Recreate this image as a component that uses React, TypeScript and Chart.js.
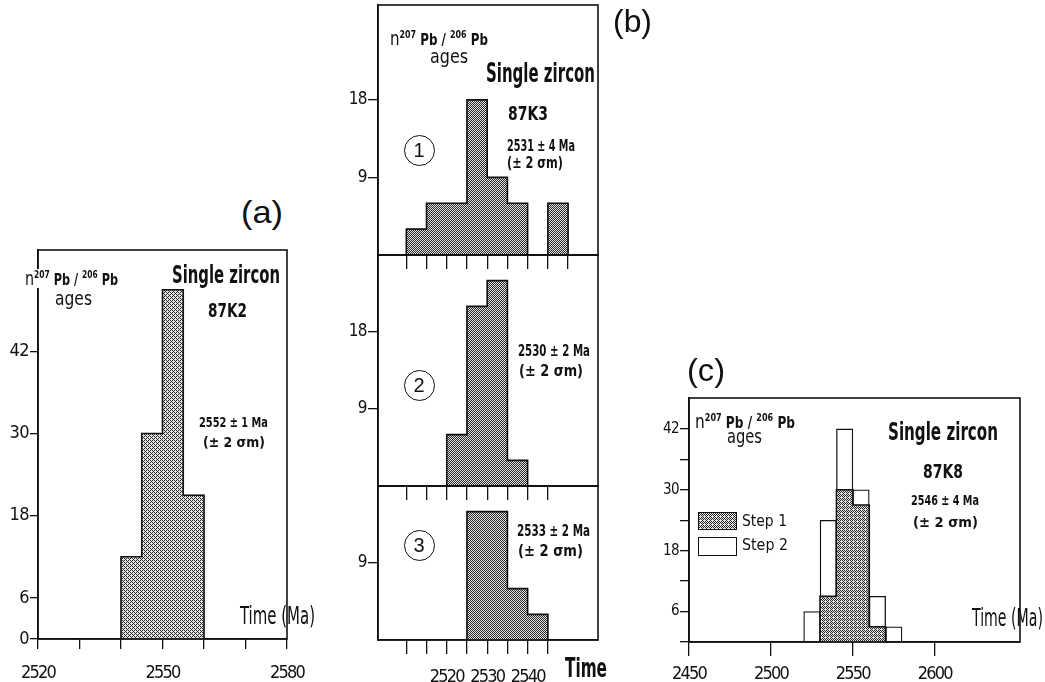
import React, { useEffect, useLayoutEffect, useRef } from 'react';
import { Chart, registerables } from 'chart.js';

Chart.register(...registerables);

const INK = '#111';
const NARROW = "'Liberation Sans Narrow', 'Arial Narrow', 'DejaVu Sans Condensed', 'Liberation Sans', sans-serif";
const SANS = "'Liberation Sans', Arial, sans-serif";

// ---------- Panel (a): single zircon 87K2 ----------
const aBinWidth = 5;
const aBinStart = [2540, 2545, 2550, 2555];
const aCounts = [12, 30, 51, 21];
const aXTicks = [2520, 2530, 2540, 2550, 2560, 2570, 2580];
const aXLabels = [2520, 2550, 2580];
const aYTicks = [0, 6, 18, 30, 42];

// ---------- Panel (b): single zircon 87K3, runs 1-3 ----------
const bBinWidth = 5;
const b1BinStart = [2510, 2515, 2520, 2525, 2530, 2535, 2540, 2545];
const b1Counts = [3, 6, 6, 18, 9, 6, 0, 6];
const b2BinStart = [2520, 2525, 2530, 2535];
const b2Counts = [6, 21, 24, 3];
const b3BinStart = [2525, 2530, 2535, 2540];
const b3Counts = [15, 15, 6, 3];
const b1XTicks = [2510, 2515, 2520, 2525, 2530, 2535, 2540, 2545, 2550];
const b23XTicks = [2510, 2515, 2520, 2525, 2530, 2535, 2540, 2545];
const bXLabels = [2520, 2530, 2540];
const b12YTicks = [9, 18];
const b3YTicks = [9];

// ---------- Panel (c): single zircon 87K8, steps 1-2 ----------
const cBinWidth = 10;
const cBinStart = [2520, 2530, 2540, 2550, 2560, 2570];
const cStep1 = [0, 9, 30, 27, 3, 0];
const cStep2 = [6, 24, 42, 30, 9, 3];
const cXTicks = [2450, 2500, 2550, 2600];
const cXLabels = [2450, 2500, 2550, 2600];
const cYTicks = [0, 6, 12, 18, 24, 30, 36, 42];
const cYLabels = [6, 18, 30, 42];

// ---------- helpers ----------
const barData = (starts: number[], counts: number[], w: number) =>
  starts.map((s, i) => ({ x: s + w / 2, y: counts[i] }));

const outline = (starts: number[], counts: number[], w: number) => {
  const pts = [{ x: starts[0], y: 0 }];
  starts.forEach((s, i) => pts.push({ x: s, y: counts[i] }));
  pts.push({ x: starts[starts.length - 1] + w, y: 0 });
  return pts;
};

const BAYER = [
  [0, 8, 2, 10],
  [12, 4, 14, 6],
  [3, 11, 1, 9],
  [15, 7, 13, 5],
];

function makeTile(level: number, light: string, dark: string) {
  const c = document.createElement('canvas');
  c.width = 4;
  c.height = 4;
  const g = c.getContext('2d')!;
  g.fillStyle = light;
  g.fillRect(0, 0, 4, 4);
  g.fillStyle = dark;
  for (let y = 0; y < 4; y++) for (let x = 0; x < 4; x++) if (BAYER[y][x] < level) g.fillRect(x, y, 1, 1);
  return c;
}

const histLine = (starts: number[], counts: number[], w: number) => ({
  type: 'line',
  data: outline(starts, counts, w),
  borderColor: INK,
  borderWidth: 1.6,
  pointRadius: 0,
  stepped: 'before',
  fill: false,
  tension: 0,
});

const histBars = (starts: number[], counts: number[], w: number, fill: any, border = 0) => ({
  type: 'bar',
  data: barData(starts, counts, w),
  backgroundColor: fill,
  borderColor: INK,
  borderWidth: border,
  barPercentage: 1,
  categoryPercentage: 1,
  grouped: false,
});

const framePlugin = {
  id: 'frame',
  afterDraw(chart: any) {
    const { ctx, chartArea } = chart;
    const { left, top, right, bottom } = chartArea;
    ctx.save();
    ctx.strokeStyle = INK;
    ctx.lineWidth = 1.6;
    ctx.strokeRect(left, top, right - left, bottom - top);
    ctx.restore();
  },
};

type Spec = {
  box: [number, number, number, number];
  padTop: number;
  padRight: number;
  yW: number;
  xH: number;
  xMin: number;
  xMax: number;
  xTicks: number[];
  xLabels: number[];
  xTickLen: number;
  xPad: number;
  xFont: number;
  yMax: number;
  yTicks: number[];
  yLabels: number[];
  yTickLen: number;
  yFont: number;
  tone: number;
  datasets: (pattern: any) => any[];
};

// condensed look for the tick labels (the page has no condensed face)
function narrowLabels(s: any, spacing: string) {
  if (s.__narrow) return;
  const orig = s.drawLabels;
  s.drawLabels = function (area: any) {
    const ctx = this.ctx;
    const prev = ctx.letterSpacing;
    ctx.letterSpacing = spacing;
    orig.call(this, area);
    ctx.letterSpacing = prev ?? '0px';
  };
  s.__narrow = true;
}

function makeConfig(spec: Spec, pattern: any): any {
  return {
    type: 'bar',
    data: { datasets: spec.datasets(pattern) },
    options: {
      responsive: false,
      animation: false,
      events: [],
      layout: { padding: { left: 0, top: spec.padTop, right: spec.padRight, bottom: 0 } },
      plugins: { legend: { display: false }, tooltip: { enabled: false } },
      scales: {
        x: {
          type: 'linear',
          min: spec.xMin,
          max: spec.xMax,
          offset: false,
          grid: {
            drawOnChartArea: false,
            drawTicks: true,
            tickLength: spec.xTickLen,
            color: INK,
            lineWidth: 1.3,
            offset: false,
          },
          border: { color: INK, width: 1.6 },
          ticks: {
            autoSkip: false,
            maxRotation: 0,
            padding: spec.xPad,
            color: INK,
            font: { family: NARROW, size: spec.xFont },
            callback: (v: number) => (spec.xLabels.includes(v) ? String(v) : ''),
          },
          afterBuildTicks: (s: any) => {
            s.ticks = spec.xTicks.map((v) => ({ value: v }));
          },
          afterFit: (s: any) => {
            s.height = spec.xH;
            narrowLabels(s, '-1.8px');
          },
        },
        y: {
          type: 'linear',
          min: 0,
          max: spec.yMax,
          grid: {
            drawOnChartArea: false,
            drawTicks: true,
            tickLength: spec.yTickLen,
            color: INK,
            lineWidth: 1.3,
          },
          border: { color: INK, width: 1.6 },
          ticks: {
            autoSkip: false,
            padding: 1,
            color: INK,
            font: { family: NARROW, size: spec.yFont },
            callback: (v: number) => (spec.yLabels.includes(v) ? String(v) : ''),
          },
          afterBuildTicks: (s: any) => {
            s.ticks = spec.yTicks.map((v) => ({ value: v }));
          },
          afterFit: (s: any) => {
            s.width = spec.yW;
            narrowLabels(s, '-0.6px');
          },
        },
      },
    },
    plugins: [framePlugin],
  };
}

function HistChart({ spec }: { spec: Spec }) {
  const ref = useRef<HTMLCanvasElement>(null);
  useEffect(() => {
    const canvas = ref.current!;
    const tile = makeTile(spec.tone, '#e6e6e6', '#262626');
    const pattern = canvas.getContext('2d')!.createPattern(tile, 'repeat');
    const chart = new Chart(canvas, makeConfig(spec, pattern));
    return () => chart.destroy();
  }, []);
  const [l, t, w, h] = spec.box;
  return (
    <canvas
      ref={ref}
      width={w}
      height={h}
      style={{ position: 'absolute', left: l, top: t, width: w, height: h }}
    />
  );
}

// ---------- chart specs (layout) ----------
const specA: Spec = {
  box: [0, 230, 330, 452], padTop: 20, padRight: 43, yW: 38, xH: 43,
  xMin: 2520, xMax: 2580, xTicks: aXTicks, xLabels: aXLabels, xTickLen: 10, xPad: 14, xFont: 18,
  yMax: 56.8, yTicks: aYTicks, yLabels: aYTicks, yTickLen: 8, yFont: 18, tone: 6,
  datasets: (p) => [histLine(aBinStart, aCounts, aBinWidth), histBars(aBinStart, aCounts, aBinWidth, p)],
};
const specB1: Spec = {
  box: [330, -15, 290, 290], padTop: 20, padRight: 22, yW: 48, xH: 20,
  xMin: 2503, xMax: 2557.4, xTicks: b1XTicks, xLabels: [], xTickLen: 14, xPad: 6, xFont: 18,
  yMax: 29, yTicks: b12YTicks, yLabels: b12YTicks, yTickLen: 10, yFont: 17, tone: 8,
  datasets: (p) => [histLine(b1BinStart, b1Counts, bBinWidth), histBars(b1BinStart, b1Counts, bBinWidth, p)],
};
const specB2: Spec = {
  box: [330, 235, 290, 271], padTop: 20, padRight: 22, yW: 48, xH: 20,
  xMin: 2503, xMax: 2557.4, xTicks: b23XTicks, xLabels: [], xTickLen: 14, xPad: 6, xFont: 18,
  yMax: 27, yTicks: b12YTicks, yLabels: b12YTicks, yTickLen: 10, yFont: 17, tone: 8,
  datasets: (p) => [histLine(b2BinStart, b2Counts, bBinWidth), histBars(b2BinStart, b2Counts, bBinWidth, p)],
};
const specB3: Spec = {
  box: [330, 466, 290, 216], padTop: 20, padRight: 22, yW: 48, xH: 42,
  xMin: 2503, xMax: 2557.4, xTicks: b23XTicks, xLabels: bXLabels, xTickLen: 14, xPad: 13, xFont: 18,
  yMax: 18, yTicks: b3YTicks, yLabels: b3YTicks, yTickLen: 10, yFont: 17, tone: 8,
  datasets: (p) => [histLine(b3BinStart, b3Counts, bBinWidth), histBars(b3BinStart, b3Counts, bBinWidth, p)],
};
const specC: Spec = {
  box: [640, 378, 405, 304], padTop: 20, padRight: 25, yW: 49, xH: 40,
  xMin: 2450, xMax: 2652, xTicks: cXTicks, xLabels: cXLabels, xTickLen: 14, xPad: 8, xFont: 18,
  yMax: 48.1, yTicks: cYTicks, yLabels: cYLabels, yTickLen: 9, yFont: 15, tone: 7,
  datasets: (p) => [
    histLine(cBinStart, cStep1, cBinWidth),
    histBars(cBinStart, cStep1, cBinWidth, p),
    histBars(cBinStart, cStep2, cBinWidth, '#ffffff', 1.3),
  ],
};

// ---------- text ----------
type TxtProps = {
  x: number;
  base: number;
  size: number;
  w?: number;
  bold?: boolean;
  family?: string;
  bg?: string;
  children: React.ReactNode;
};

function Txt({ x, base, size, w, bold, family, bg, children }: TxtProps) {
  const ref = useRef<HTMLDivElement>(null);
  useLayoutEffect(() => {
    const el = ref.current!;
    el.style.transform = 'none';
    const nat = el.getBoundingClientRect().width;
    if (w && nat) el.style.transform = `scaleX(${w / nat})`;
  }, []);
  return (
    <div
      ref={ref}
      style={{
        position: 'absolute',
        left: x,
        top: base - 0.85 * size,
        fontSize: size,
        lineHeight: 1,
        fontFamily: family ?? NARROW,
        fontWeight: bold ? 700 : 400,
        whiteSpace: 'nowrap',
        transformOrigin: '0 0',
        color: INK,
        background: bg,
      }}
    >
      {children}
    </div>
  );
}

const Sup = ({ children }: { children: React.ReactNode }) => (
  <span style={{ fontSize: 10, position: 'relative', top: -7, lineHeight: 1 }}>{children}</span>
);

function IsoLabel({ x, base, w, bg }: { x: number; base: number; w: number; bg?: string }) {
  return (
    <Txt x={x} base={base} size={15} w={w} bold bg={bg}>
      <span style={{ fontSize: 19, fontWeight: 400, lineHeight: 1 }}>n</span>
      <Sup>207</Sup> Pb / <Sup>206</Sup> Pb
    </Txt>
  );
}

function Circled({ cx, cy, n }: { cx: number; cy: number; n: string }) {
  return (
    <div
      style={{
        position: 'absolute',
        left: cx - 15.5,
        top: cy - 15.5,
        width: 31,
        height: 31,
        boxSizing: 'border-box',
        border: `1.6px solid ${INK}`,
        borderRadius: '50%',
        display: 'flex',
        alignItems: 'center',
        justifyContent: 'center',
        fontFamily: SANS,
        fontSize: 20,
        lineHeight: 1,
        color: INK,
      }}
    >
      {n}
    </div>
  );
}

export default function App() {
  const swatchBg = React.useMemo(() => makeTile(7, '#e6e6e6', '#262626').toDataURL(), []);
  return (
    <div
      style={{
        position: 'absolute',
        left: 0,
        top: 0,
        width: 1045,
        height: 682,
        background: '#fff',
        overflow: 'hidden',
      }}
    >
      <HistChart spec={specA} />
      <HistChart spec={specB1} />
      <HistChart spec={specB2} />
      <HistChart spec={specB3} />
      <HistChart spec={specC} />

      {/* panel (a) */}
      <Txt x={241} base={223} size={32} w={42} family={SANS}>(a)</Txt>
      <IsoLabel x={25} base={282} w={93} bg="#fff" />
      <Txt x={55} base={305} size={19} w={37}>ages</Txt>
      <Txt x={172} base={283} size={25} w={108} bold>Single zircon</Txt>
      <Txt x={208} base={317} size={19} w={39} bold>87K2</Txt>
      <Txt x={199} base={427} size={14} w={69} bold>2552 ± 1 Ma</Txt>
      <Txt x={203} base={447} size={14} w={62} bold>(± 2 σm)</Txt>
      <Txt x={240} base={624} size={25} w={75}>Time (Ma)</Txt>

      {/* panel (b) */}
      <Txt x={613} base={32} size={32} w={39} family={SANS}>(b)</Txt>
      <IsoLabel x={390} base={42} w={98} />
      <Txt x={430} base={63} size={19} w={38}>ages</Txt>
      <Txt x={486} base={82} size={26} w={109} bold>Single zircon</Txt>
      <Txt x={508} base={120} size={19} w={40} bold>87K3</Txt>
      <Circled cx={419} cy={150} n="1" />
      <Txt x={507} base={152} size={15} w={68} bold>2531 ± 4 Ma</Txt>
      <Txt x={507} base={169} size={15} w={56} bold>(± 2 σm)</Txt>
      <Circled cx={419} cy={385} n="2" />
      <Txt x={518} base={357} size={15} w={72} bold>2530 ± 2 Ma</Txt>
      <Txt x={519} base={377} size={15} w={64} bold>(± 2 σm)</Txt>
      <Circled cx={419} cy={545} n="3" />
      <Txt x={517} base={537} size={15} w={73} bold>2533 ± 2 Ma</Txt>
      <Txt x={518} base={557} size={15} w={65} bold>(± 2 σm)</Txt>
      <Txt x={565} base={677} size={26} w={42} bold>Time</Txt>

      {/* panel (c) */}
      <Txt x={687} base={381} size={32} w={38} family={SANS}>(c)</Txt>
      <IsoLabel x={695} base={425} w={100} />
      <Txt x={727} base={443} size={19} w={35}>ages</Txt>
      <Txt x={888} base={440} size={25} w={110} bold>Single zircon</Txt>
      <Txt x={923} base={478} size={20} w={40} bold>87K8</Txt>
      <Txt x={911} base={505} size={14} w={68} bold>2546 ± 4 Ma</Txt>
      <Txt x={913} base={527} size={14} w={65} bold>(± 2 σm)</Txt>
      <div
        style={{
          position: 'absolute',
          left: 698,
          top: 512,
          width: 39,
          height: 18,
          boxSizing: 'border-box',
          border: `1.6px solid ${INK}`,
          backgroundImage: `url(${swatchBg})`,
          backgroundRepeat: 'repeat',
        }}
      />
      <Txt x={742} base={527} size={16} w={45}>Step 1</Txt>
      <div
        style={{
          position: 'absolute',
          left: 698,
          top: 537,
          width: 39,
          height: 19,
          boxSizing: 'border-box',
          border: `1.3px solid ${INK}`,
          background: '#fff',
        }}
      />
      <Txt x={742} base={551} size={16} w={46}>Step 2</Txt>
      <Txt x={972} base={626} size={25} w={71}>Time (Ma)</Txt>
    </div>
  );
}
